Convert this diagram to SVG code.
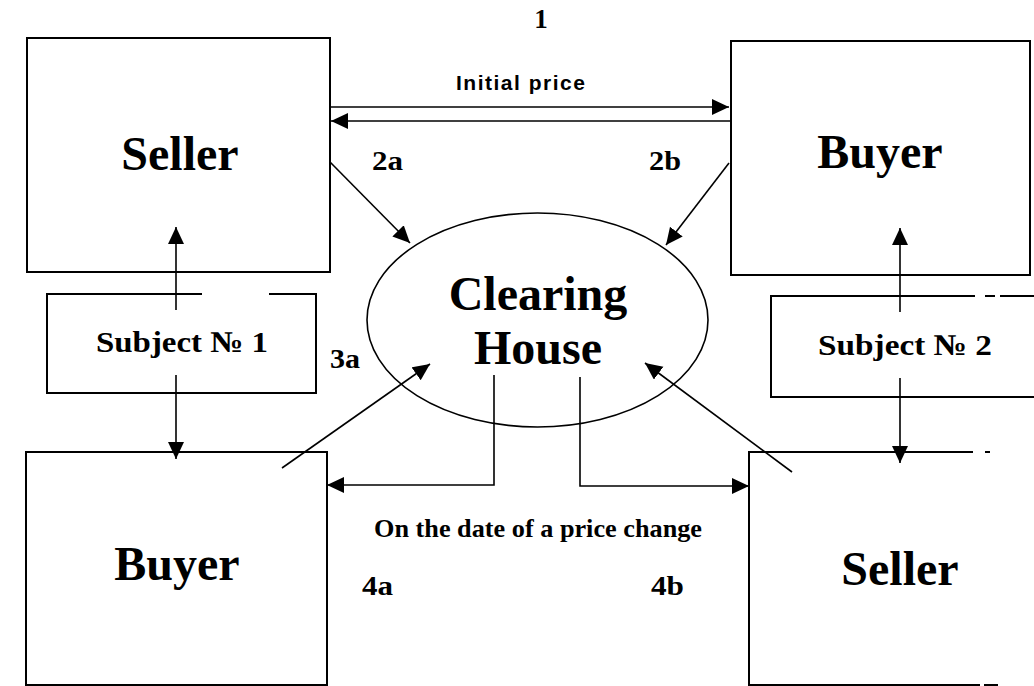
<svg xmlns="http://www.w3.org/2000/svg" width="1034" height="686" viewBox="0 0 1034 686">
<style>
.box{fill:none;stroke:#000;stroke-width:2}
.ln{fill:none;stroke:#000;stroke-width:1.6}
.big{font-family:"Liberation Serif","Times New Roman",serif;font-weight:bold;font-size:48px;text-anchor:middle;fill:#000}
.sub{font-family:"Liberation Serif","Times New Roman",serif;font-weight:bold;font-size:30px;text-anchor:middle;fill:#000}
.lab{font-family:"Liberation Serif","Times New Roman",serif;font-weight:bold;font-size:27px;fill:#000}
.note{font-family:"Liberation Serif","Times New Roman",serif;font-weight:bold;font-size:25px;fill:#000}
.ip{font-family:"Liberation Sans",Arial,sans-serif;font-weight:bold;font-size:21px;fill:#000}
</style>
<defs>
<marker id="ah" markerUnits="userSpaceOnUse" markerWidth="20" markerHeight="18" refX="17" refY="8" orient="auto">
<path d="M0,0 L17,8 L0,16 Z" fill="#000"/>
</marker>
</defs>
<rect width="1034" height="686" fill="#fff"/>

<g id="seller-top">
<rect class="box" x="27" y="38" width="303" height="234"/>
<text class="big" x="180" y="170">Seller</text>
</g>
<g id="buyer-top">
<rect class="box" x="731" y="41" width="299" height="234"/>
<text class="big" x="880" y="168">Buyer</text>
</g>
<g id="subject1">
<path class="box" d="M202,294 H47 V393 H316 V294 H269"/>
<text class="sub" x="182" y="352" textLength="172" lengthAdjust="spacingAndGlyphs">Subject № 1</text>
</g>
<g id="subject2">
<path class="box" d="M1034,296 H1000 M995,296 H985 M975,296 H771 V397 H1034"/>
<text class="sub" x="905" y="355" textLength="174" lengthAdjust="spacingAndGlyphs">Subject № 2</text>
</g>
<g id="clearing-house">
<ellipse cx="537.5" cy="320" rx="170.5" ry="107" fill="none" stroke="#000" stroke-width="1.6"/>
<text class="big" x="538" y="310">Clearing</text>
<text class="big" x="538" y="364">House</text>
</g>
<g id="buyer-bottom">
<rect class="box" x="26" y="452" width="301" height="233"/>
<text class="big" x="177" y="580">Buyer</text>
</g>
<g id="seller-bottom">
<path class="box" d="M973,452 H749 V685 H980 M985,452 H990 M984,685 H998"/>
<text class="big" x="900" y="585">Seller</text>
</g>

<g id="connectors">
<line class="ln" x1="330" y1="107" x2="729" y2="107" marker-end="url(#ah)"/>
<line class="ln" x1="731" y1="121" x2="331" y2="121" marker-end="url(#ah)"/>
<line class="ln" x1="330" y1="162" x2="410" y2="243" marker-end="url(#ah)"/>
<line class="ln" x1="729" y1="163" x2="666" y2="245" marker-end="url(#ah)"/>
<line class="ln" x1="282" y1="468" x2="430" y2="364" marker-end="url(#ah)"/>
<line class="ln" x1="792" y1="472" x2="645" y2="363" marker-end="url(#ah)"/>
<line class="ln" x1="176" y1="310" x2="176" y2="227" marker-end="url(#ah)"/>
<line class="ln" x1="176" y1="375" x2="176" y2="459" marker-end="url(#ah)"/>
<line class="ln" x1="900" y1="312" x2="900" y2="228" marker-end="url(#ah)"/>
<line class="ln" x1="900" y1="378" x2="900" y2="463" marker-end="url(#ah)"/>
<path class="ln" d="M494,375 V485 H327" marker-end="url(#ah)"/>
<path class="ln" d="M580,377 V486 H749" marker-end="url(#ah)"/>
</g>

<g id="labels">
<text class="lab" x="541" y="28" text-anchor="middle" font-size="24">1</text>
<text class="ip" x="456" y="90" textLength="129" lengthAdjust="spacing">Initial price</text>
<text class="lab" x="372" y="170" textLength="31" lengthAdjust="spacingAndGlyphs">2a</text>
<text class="lab" x="649" y="170" textLength="32" lengthAdjust="spacingAndGlyphs">2b</text>
<text class="lab" x="330" y="368" textLength="30" lengthAdjust="spacingAndGlyphs">3a</text>
<text class="note" x="374" y="537" textLength="328" lengthAdjust="spacingAndGlyphs">On the date of a price change</text>
<text class="lab" x="362" y="595" textLength="31" lengthAdjust="spacingAndGlyphs">4a</text>
<text class="lab" x="651" y="595" textLength="33" lengthAdjust="spacingAndGlyphs">4b</text>
</g>
</svg>
